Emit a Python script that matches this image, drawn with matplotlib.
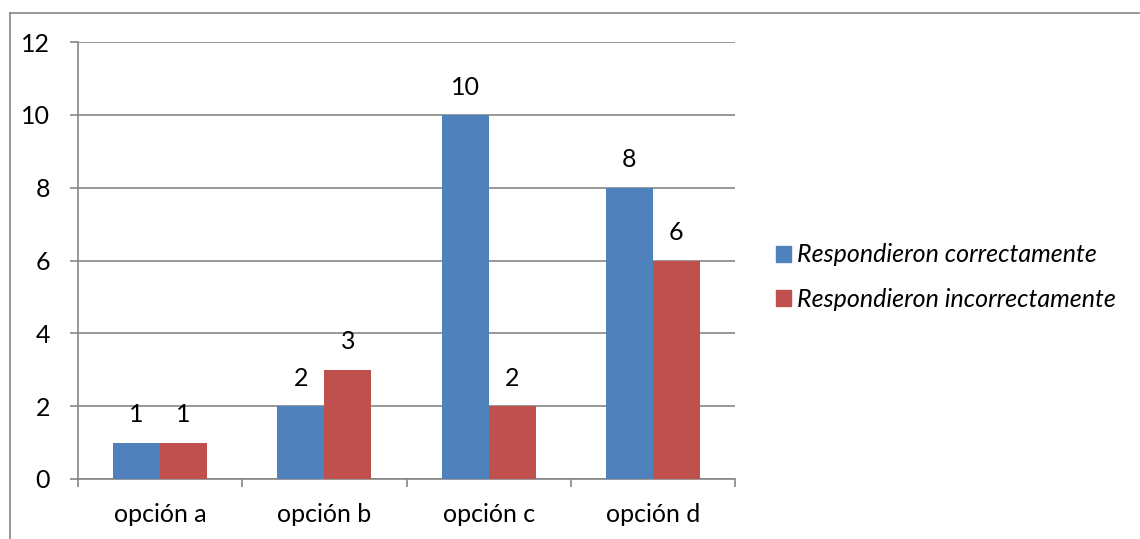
import matplotlib
matplotlib.use("Agg")
import matplotlib.pyplot as plt
from matplotlib.patches import Patch
from matplotlib.lines import Line2D
import numpy as np

categories = ["opción a", "opción b", "opción c", "opción d"]
correct = [1, 2, 10, 8]
incorrect = [1, 3, 2, 6]
series_names = ["Respondieron correctamente", "Respondieron incorrectamente"]
yticks = [0, 2, 4, 6, 8, 10, 12]

BLUE = "#4F81BD"
RED = "#C0504D"
GRID = "#868686"

plt.rcParams['font.family'] = ['Lato', 'DejaVu Sans']
FS = 18

W, H = 1140, 539
fig = plt.figure(figsize=(W/100, H/100), dpi=100)
bx, by = 9.5/W, 1 - 12.5/H
fig.lines.append(Line2D([bx, bx], [0, by], transform=fig.transFigure, color=GRID, linewidth=1.2))
fig.lines.append(Line2D([bx, 1], [by, by], transform=fig.transFigure, color=GRID, linewidth=1.2))

ax = fig.add_axes([78/W, 1 - 479/H, (735-78)/W, (479-42)/H])
x = np.arange(len(categories))
bw = 0.286
b1 = ax.bar(x - bw/2, correct, bw, color=BLUE, label=series_names[0], zorder=3)
b2 = ax.bar(x + bw/2, incorrect, bw, color=RED, label=series_names[1], zorder=3)

for bars in (b1, b2):
    for r in bars:
        ax.annotate(f"{int(r.get_height())}", (r.get_x() + r.get_width()/2, r.get_height()),
                    xytext=(0, 20), textcoords="offset points", ha="center", va="center",
                    fontsize=FS, color="black")

ax.set_xlim(-0.5, len(categories) - 0.5)
ax.set_ylim(0, 12)
ax.set_yticks(yticks)
ax.set_yticklabels([str(v) for v in yticks], fontsize=FS)
ax.yaxis.grid(True, color=GRID, linewidth=1.2, zorder=0)
ax.set_axisbelow(True)
ax.tick_params(axis='y', length=6, color=GRID, width=1.2, pad=14)
ax.set_xticks(np.arange(len(categories) + 1) - 0.5)
ax.set_xticklabels([])
ax.set_xticks(x, minor=True)
ax.set_xticklabels(categories, minor=True, fontsize=FS)
ax.tick_params(axis='x', which='major', length=6, color=GRID, width=1.2)
ax.tick_params(axis='x', which='minor', length=0, pad=17)
for s in ("top", "right"):
    ax.spines[s].set_visible(False)
for s in ("left", "bottom"):
    ax.spines[s].set_color(GRID)
    ax.spines[s].set_linewidth(1.2)

handles = [Patch(color=BLUE), Patch(color=RED)]
leg = fig.legend(handles, series_names, loc="center left", bbox_to_anchor=(753/W, 1 - 277/H),
                 frameon=False, prop={'size': FS, 'style': 'italic'},
                 handlelength=0.6, handleheight=0.6, handletextpad=0.25, labelspacing=0.85)

fig.savefig("out.png", dpi=100)
